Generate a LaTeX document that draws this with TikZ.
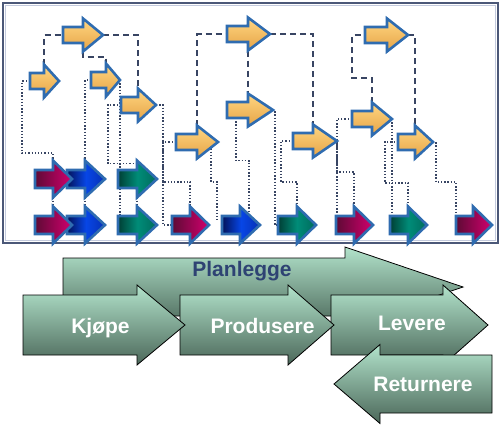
\documentclass[tikz,border=0pt]{standalone}
\usepackage{fontspec}
\setmainfont{Liberation Sans}
\usetikzlibrary{calc}

\definecolor{framec}{HTML}{4B5878}
\definecolor{framelt}{HTML}{C3CADD}
\definecolor{arrline}{HTML}{2F6CB0}
\definecolor{linkc}{HTML}{384563}
\definecolor{yelT}{HTML}{FFD682}
\definecolor{yelB}{HTML}{E6A446}
\definecolor{magL}{HTML}{5E0A35}
\definecolor{magR}{HTML}{D2006E}
\definecolor{bluL}{HTML}{03135A}
\definecolor{bluM}{HTML}{0746E6}
\definecolor{bluR}{HTML}{0630B4}
\definecolor{grnL}{HTML}{003F35}
\definecolor{grnM}{HTML}{008C78}
\definecolor{grnR}{HTML}{006A5C}
\definecolor{procT}{HTML}{B2E3CB}
\definecolor{procB}{HTML}{4B6759}
\definecolor{plantext}{HTML}{2E4373}

% block arrow: name, style, tail x, head-base x, tip x, centre y, shaft half-height, head half-height
\newcommand\blkarrow[8]{%
  \path[#2] (#3,#6-#7) -- (#4,#6-#7) -- (#4,#6-#8) -- (#5,#6)
    -- (#4,#6+#8) -- (#4,#6+#7) -- (#3,#6+#7) -- cycle;
  \coordinate (#1-tail) at (#3,#6);
  \coordinate (#1-tip) at (#5,#6);
  \coordinate (#1-headtop) at (#4,#6-#8);
  \coordinate (#1-headbot) at (#4,#6+#8);
  \coordinate (#1-tailtop) at (#3,#6-#7);
}

\tikzset{
  arrbase/.style={draw=arrline, line width=2.6pt, line join=miter},
  yarr/.style={arrbase, top color=yelT, bottom color=yelB},
  marr/.style={arrbase, left color=magL, right color=magR},
  barr/.style={arrbase, left color=bluL, right color=bluR, middle color=bluM},
  garr/.style={arrbase, left color=grnL, right color=grnR, middle color=grnM},
  proc/.style={draw=black, line width=0.8pt, line join=miter, top color=procT, bottom color=procB},
  dashlink/.style={draw=linkc, line width=1.8pt, dash pattern=on 6pt off 4pt},
  dotlink/.style={draw=linkc, line width=1.5pt, dash pattern=on 1.3pt off 1.9pt},
  proclbl/.style={text=white, font=\fontsize{21}{24}\selectfont\bfseries, anchor=base, inner sep=0pt},
}

\begin{document}
\begin{tikzpicture}[x=1pt, y=-1pt]
\useasboundingbox (0,0) rectangle (501,426);

% frame of the upper panel
\draw[framelt, line width=1pt] (5.5,5.5) rectangle (495.5,240.5);
\draw[framec, line width=2.4pt] (3,3) rectangle (498,243);

% coordinates of all block arrows (placed invisibly first so links can use them)
\blkarrow{Y1}{}{63}{83}{103}{35}{8}{16.5}
\blkarrow{Y2}{}{30}{44}{59}{81}{8}{16.5}
\blkarrow{Y3}{}{91}{106}{120}{80}{8}{16.5}
\blkarrow{Y4}{}{121}{138}{156}{105}{8}{16.5}
\blkarrow{Y5}{}{176}{197}{218}{142}{8}{16.5}
\blkarrow{Y6}{}{227}{248}{270}{34}{8}{16.5}
\blkarrow{Y7}{}{227}{248}{273}{110}{8}{16.5}
\blkarrow{Y8}{}{293}{313}{337}{141}{8}{16.5}
\blkarrow{Y9}{}{365}{387}{408}{35}{8}{16.5}
\blkarrow{Y10}{}{352}{372}{392}{119}{8}{16.5}
\blkarrow{Y11}{}{398}{415}{433}{142}{8}{16.5}
\blkarrow{M1}{}{35}{53}{72}{179}{9}{18.5}
\blkarrow{B1}{}{67}{85}{105}{179}{9}{18.5}
\blkarrow{G1}{}{118}{137}{157}{179}{9}{18.5}
\blkarrow{M2}{}{35}{53}{72}{225}{9}{18.5}
\blkarrow{B2}{}{67}{85}{105}{225}{9}{18.5}
\blkarrow{G2}{}{118}{137}{157}{225}{9}{18.5}
\blkarrow{M3}{}{172}{190}{209}{225}{9}{18.5}
\blkarrow{B3}{}{222}{240}{260}{225}{9}{18.5}
\blkarrow{G3}{}{278}{297}{316}{225}{9}{18.5}
\blkarrow{M4}{}{336}{354}{373}{225}{9}{18.5}
\blkarrow{G4}{}{390}{408}{427}{225}{9}{18.5}
\blkarrow{M5}{}{456}{473}{492}{225}{9}{18.5}

% dashed links between the planning arrows
\draw[dashlink] (Y2-headtop) |- (Y1-tail);
\draw[dashlink] (Y1-tip) -| (Y4-headtop);
\draw[dashlink] (Y1-headbot) -- ++(0,5.5) -| (Y3-headtop);
\draw[dashlink] (Y5-headtop) |- (Y6-tail);
\draw[dashlink] (Y6-tip) -| (Y8-headtop);
\draw[dashlink] (Y6-headbot) -- (Y7-headtop);
\draw[dashlink] (Y10-headtop) -- ++(0,-24.5) -- ++(-20,0) |- (Y9-tail);
\draw[dashlink] (Y9-tip) -| (Y11-headtop);

% dotted links down to the coloured arrows
\draw[dotlink] (Y2-tail) -- ++(-8,0) -- ++(0,72) -| (M1-headtop);
\draw[dotlink] (M1-headbot) -- (M2-headtop);
\draw[dotlink] (Y3-tail) -| (B1-headtop);
\draw[dotlink] (B1-headbot) -- (B2-headtop);
\draw[dotlink] (Y4-tail) -- ++(-13,0) |- ($(G1-headtop)+(0,3)$) -- (G1-headtop);
\draw[dotlink] (G1-headbot) -- (G2-headtop);
\draw[dotlink] (Y3-tip) -- (Y3-tip |- G2-tailtop);
\draw[dotlink] (Y4-tip) -- ++(7,0) |- (M3-tail);
\draw[dotlink] (Y5-tail) -- ++(-13,0) -- ++(0,40) -| (M3-headtop);
\draw[dotlink] ($(Y5-tip)+(-7,0)$) |- ($(B3-tailtop)+(-5,-34)$) -- ($(B3-tailtop)+(-5,4)$);
\draw[dotlink] ($(Y7-tail)+(9,8)$) |- ($(B3-headtop)+(9,-46)$) -- ($(B3-headtop)+(9,8)$);
\draw[dotlink] (Y7-tip) -- ++(2,0) |- (G3-tail);
\draw[dotlink] (Y8-tail) -- ++(-12,0) -- ++(0,41) -| (G3-headtop);
\draw[dotlink] (Y8-tip) -- (Y8-tip |- M4-tailtop);
\draw[dotlink] (Y10-tail) -- ++(-15,0) -- ++(0,53) -| (M4-headtop);
\draw[dotlink] (Y10-tip) -- (Y10-tip |- G4-tailtop);
\draw[dotlink] (Y11-tail) -- ++(-13,0) -- ++(0,41) -| (G4-headtop);
\draw[dotlink] (Y11-tip) -- ++(3,0) -- ++(0,40) -| (M5-tailtop);

% planning arrows
\blkarrow{Y1}{yarr}{63}{83}{103}{35}{8}{16.5}
\blkarrow{Y2}{yarr}{30}{44}{59}{81}{8}{16.5}
\blkarrow{Y3}{yarr}{91}{106}{120}{80}{8}{16.5}
\blkarrow{Y4}{yarr}{121}{138}{156}{105}{8}{16.5}
\blkarrow{Y5}{yarr}{176}{197}{218}{142}{8}{16.5}
\blkarrow{Y6}{yarr}{227}{248}{270}{34}{8}{16.5}
\blkarrow{Y7}{yarr}{227}{248}{273}{110}{8}{16.5}
\blkarrow{Y8}{yarr}{293}{313}{337}{141}{8}{16.5}
\blkarrow{Y9}{yarr}{365}{387}{408}{35}{8}{16.5}
\blkarrow{Y10}{yarr}{352}{372}{392}{119}{8}{16.5}
\blkarrow{Y11}{yarr}{398}{415}{433}{142}{8}{16.5}

% coloured execution arrows
\blkarrow{G1}{garr}{118}{137}{157}{179}{9}{18.5}
\blkarrow{B1}{barr}{67}{85}{105}{179}{9}{18.5}
\blkarrow{M1}{marr}{35}{53}{72}{179}{9}{18.5}
\blkarrow{M5}{marr}{456}{473}{492}{225}{9}{18.5}
\blkarrow{G4}{garr}{390}{408}{427}{225}{9}{18.5}
\blkarrow{M4}{marr}{336}{354}{373}{225}{9}{18.5}
\blkarrow{G3}{garr}{278}{297}{316}{225}{9}{18.5}
\blkarrow{B3}{barr}{222}{240}{260}{225}{9}{18.5}
\blkarrow{M3}{marr}{172}{190}{209}{225}{9}{18.5}
\blkarrow{G2}{garr}{118}{137}{157}{225}{9}{18.5}
\blkarrow{B2}{barr}{67}{85}{105}{225}{9}{18.5}
\blkarrow{M2}{marr}{35}{53}{72}{225}{9}{18.5}

% process arrows
\blkarrow{Plan}{proc}{63}{345}{463}{287}{29}{40}
\blkarrow{Lev}{proc}{331}{443}{488}{325}{30}{40}
\blkarrow{Ret}{proc}{492}{380}{334}{384}{29}{39.5}
\blkarrow{Prod}{proc}{180}{288}{334}{325}{30}{40}
\blkarrow{Kjop}{proc}{23}{137}{185}{325}{30}{40}

\node[proclbl, text=plantext] (tPlan) at (242,276.5) {Planlegge};
\node[proclbl] (tKjop) at (100.5,333) {Kjøpe};
\node[proclbl] (tProd) at (262.5,333) {Produsere};
\node[proclbl] (tLev) at (412,330) {Levere};
\node[proclbl] (tRet) at (423,391) {Returnere};
\end{tikzpicture}
\end{document}
